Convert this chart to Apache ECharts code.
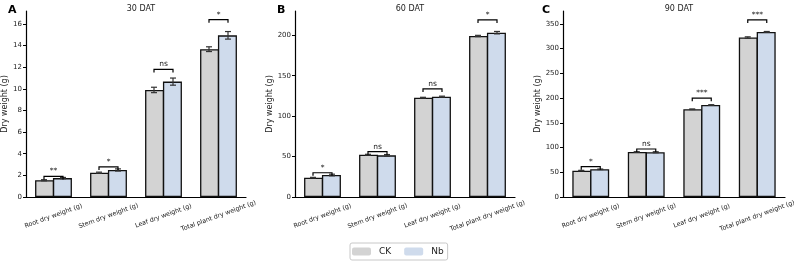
<!DOCTYPE html>
<html>
	<head>
		<meta charset="UTF-8">
		<title></title>
		<style>
			body{margin:0;background:#fff;}
		</style>
	</head>
	<body>
		<div id='chart' style="width:794px;height:263px;"></div>
	</body>
	<script type="text/javascript" src="https://cdn.jsdelivr.net/npm/echarts@6/dist/echarts.min.js"></script>
	<script>
		var categories=['Root dry weight (g)','Stem dry weight (g)','Leaf dry weight (g)','Total plant dry weight (g)'];
		var panelTitles=['30 DAT','60 DAT','90 DAT'];
		var panelLetters=['A','B','C'];

		// 30 DAT
		var ck30=[1.55,2.25,9.9,13.67];
		var ck30Err=[0.05,0.05,0.25,0.22];
		var nb30=[1.75,2.5,10.67,14.95];
		var nb30Err=[0.06,0.1,0.33,0.35];
		var sig30=['**','*','ns','*'];
		var bracket30=[1.9,2.78,11.8,16.4];
		var yTicks30=[0,2,4,6,8,10,12,14,16];
		var yMax30=17.2;

		// 60 DAT
		var ck60=[23.9,52.3,122.8,199.1];
		var ck60Err=[0.4,0.5,0.5,0.8];
		var nb60=[27.2,51.5,124.1,203.2];
		var nb60Err=[1.0,1.0,0.6,1.5];
		var sig60=['*','ns','ns','*'];
		var bracket60=[30,56,133.6,219];
		var yTicks60=[0,50,100,150,200];
		var yMax60=230;

		// 90 DAT
		var ck90=[53.3,91,177.4,322.3];
		var ck90Err=[0.6,0.5,0.6,1.5];
		var nb90=[56,90.5,186,333.8];
		var nb90Err=[0.5,1.0,0.6,0.8];
		var sig90=['*','ns','***','***'];
		var bracket90=[61.3,97,199.7,358];
		var yTicks90=[0,50,100,150,200,250,300,350];
		var yMax90=376;

		var panels=[
			{ck:ck30,ckErr:ck30Err,nb:nb30,nbErr:nb30Err,sig:sig30,br:bracket30,ticks:yTicks30,max:yMax30},
			{ck:ck60,ckErr:ck60Err,nb:nb60,nbErr:nb60Err,sig:sig60,br:bracket60,ticks:yTicks60,max:yMax60},
			{ck:ck90,ckErr:ck90Err,nb:nb90,nbErr:nb90Err,sig:sig90,br:bracket90,ticks:yTicks90,max:yMax90}
		];
		var gridLeft=[26,295,563];
		var gridWidth=[220,220,222];
		var letterLeft=[3,272,537];

		var ckColor='#d3d3d3', nbColor='#cfdbec';
		var barW=19;
		var font='DejaVu Sans';

		var chart=echarts.init(document.getElementById('chart'));
		var grids=[],xAxes=[],yAxes=[],series=[],titles=[];

		function errItem(offset){
			return function(params,api){
				var v=api.value(1), e=api.value(2);
				var top=api.coord([api.value(0),v+e]);
				var bot=api.coord([api.value(0),v-e]);
				var x=top[0]+offset;
				var cap=3;
				return {type:'group',children:[
					{type:'line',shape:{x1:x,y1:top[1],x2:x,y2:bot[1]},style:{stroke:'#333',lineWidth:1.2}},
					{type:'line',shape:{x1:x-cap,y1:top[1],x2:x+cap,y2:top[1]},style:{stroke:'#333',lineWidth:1.2}},
					{type:'line',shape:{x1:x-cap,y1:bot[1],x2:x+cap,y2:bot[1]},style:{stroke:'#333',lineWidth:1.2}}
				]};
			};
		}

		function bracketItem(sigs){
			return function(params,api){
				var p=api.coord([api.value(0),api.value(1)]);
				var x1=p[0]-barW/2, x2=p[0]+barW/2, y=p[1];
				return {type:'group',children:[
					{type:'polyline',shape:{points:[[x1,y+3],[x1,y],[x2,y],[x2,y+3]]},style:{stroke:'#000',lineWidth:1.2,fill:null}},
					{type:'text',x:p[0],y:y-1,style:{text:sigs[params.dataIndex],fontSize:7.5,fontFamily:font,fill:'#222',align:'center',verticalAlign:'bottom'}}
				]};
			};
		}

		panels.forEach(function(p,i){
			grids.push({left:gridLeft[i],top:11,width:gridWidth[i],height:186,containLabel:false,outerBoundsMode:'none'});
			xAxes.push({
				type:'category',gridIndex:i,data:categories,boundaryGap:true,
				axisLine:{lineStyle:{color:'#000',width:1.2}},
				axisTick:{alignWithLabel:true,length:4,lineStyle:{color:'#000',width:1.2}},
				axisLabel:{rotate:20,fontSize:6.3,fontFamily:font,color:'#222',margin:19,interval:0,
					align:'center',verticalAlign:'middle'},
				splitLine:{show:false}
			});
			yAxes.push({
				type:'value',gridIndex:i,min:0,max:p.max,
				name:'Dry weight (g)',nameLocation:'middle',nameGap:i==0?17:20,
				nameTextStyle:{fontSize:8,fontFamily:font,color:'#222'},
				axisLine:{show:true,lineStyle:{color:'#000',width:1.2}},
				axisTick:{show:true,length:3,lineStyle:{color:'#000'},customValues:p.ticks},
				axisLabel:{fontSize:7,fontFamily:font,color:'#222',margin:4,customValues:p.ticks},
				splitLine:{show:false}
			});
			series.push({
				name:'CK',type:'bar',xAxisIndex:i,yAxisIndex:i,data:p.ck,barWidth:barW,barGap:'-6%',
				itemStyle:{color:ckColor,borderColor:'#111',borderWidth:1.3}
			});
			series.push({
				name:'Nb',type:'bar',xAxisIndex:i,yAxisIndex:i,data:p.nb,barWidth:barW,barGap:'-6%',
				itemStyle:{color:nbColor,borderColor:'#111',borderWidth:1.3}
			});
			series.push({
				type:'custom',xAxisIndex:i,yAxisIndex:i,silent:true,z:5,
				data:p.ck.map(function(v,k){return [k,v,p.ckErr[k]];}),
				renderItem:errItem(-barW/2)
			});
			series.push({
				type:'custom',xAxisIndex:i,yAxisIndex:i,silent:true,z:5,
				data:p.nb.map(function(v,k){return [k,v,p.nbErr[k]];}),
				renderItem:errItem(barW/2)
			});
			series.push({
				type:'custom',xAxisIndex:i,yAxisIndex:i,silent:true,z:5,
				data:p.br.map(function(v,k){return [k,v];}),
				renderItem:bracketItem(p.sig)
			});
			titles.push({text:panelTitles[i],left:gridLeft[i]+gridWidth[i]/2,top:0,textAlign:'center',
				textStyle:{fontSize:8,fontWeight:'normal',fontFamily:font,color:'#222'}});
			titles.push({text:panelLetters[i],left:letterLeft[i],top:0,
				textStyle:{fontSize:11,fontWeight:'bold',fontFamily:font,color:'#000'}});
		});

		var option={
			animation:false,
			title:titles,
			legend:{
				data:['CK','Nb'],top:243,left:350,
				itemWidth:19,itemHeight:8,itemGap:13,
				padding:[4,4,4,2],
				borderColor:'#c8c8c8',borderWidth:1,borderRadius:2,
				textStyle:{fontSize:9,fontFamily:font,color:'#222',padding:[0,0,0,3]},
				itemStyle:{borderWidth:0}
			},
			grid:grids,
			xAxis:xAxes,
			yAxis:yAxes,
			series:series
		};
		chart.setOption(option);
	</script>
</html>
